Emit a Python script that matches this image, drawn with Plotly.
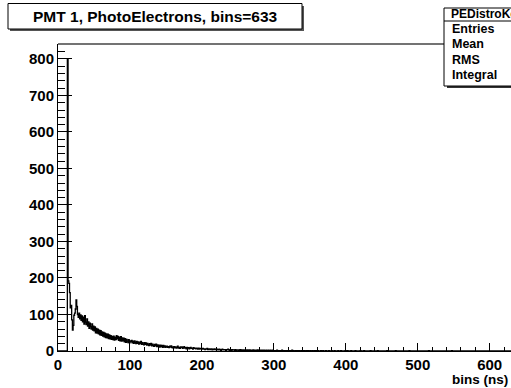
import numpy as np
import plotly.graph_objects as go

# ---- data (counts per 1 ns bin, 633 bins from 0 to 633 ns) ----
counts_0_13 = [0,0,0,0,0,0,0,0,0,0,0,0,0, 801]
counts_14_100 = [
    192,185,160,118,125,85,57,70,98,104,
    115,140,122,100,92,104,88,99,84,96,
    80,93,74,97,79,72,88,68,80,62,
    76,67,60,74,57,68,55,66,50,62,
    49,60,47,57,44,56,43,52,41,51,
    39,49,37,47,36,46,34,44,33,42,
    32,40,31,41,30,38,31,42,33,40,
    29,38,28,39,27,36,28,35,25,34,
    24,32,27,23,31,22,28]
counts_101_150 = [
    25,29,22,27,21,28,24,20,26,21,
    25,19,24,20,26,18,23,19,17,23,
    18,22,16,21,17,15,20,16,21,14,
    19,15,13,18,14,19,12,17,13,16,
    11,16,12,15,10,15,11,14,10,13]
counts_151_200 = [
    13,10,12,9,13,11,14,9,11,8,
    12,9,11,8,10,13,8,10,7,11,
    9,11,7,9,12,8,9,6,10,8,
    9,6,8,10,7,8,5,9,7,8,
    6,8,7,5,8,5,7,6,7,5]
counts_201_300 = [
    7,5,6,4,6,5,7,4,5,6,
    4,5,6,3,5,4,6,4,5,3,
    5,4,3,5,4,2,4,5,3,4,
    3,4,2,4,3,5,3,2,4,3,
    2,4,3,3,2,4,2,3,3,2,
    3,2,4,2,3,1,3,2,2,3,
    1,2,3,2,1,3,2,2,1,2,
    3,1,2,2,1,2,3,1,2,1,
    2,1,2,1,2,2,1,1,2,1,
    1,2,1,1,2,0,1,2,1,1]
counts_301_400 = [
    1,0,1,2,1,0,1,1,0,1,
    2,1,0,1,1,0,1,0,1,1,
    0,1,0,1,2,0,1,0,0,1,
    1,0,1,0,1,0,0,1,0,1,
    0,1,0,0,1,0,1,0,0,1,
    0,0,1,0,0,1,0,1,0,0,
    1,0,0,0,1,0,0,1,0,0,
    0,1,0,0,0,1,0,0,0,1,
    0,0,0,1,0,0,0,0,1,0,
    0,0,1,0,0,0,0,0,1,0]
counts_401_632 = [
    0,1,0,0,0,0,1,0,0,0,0,0,1,0,0,0,0,0,0,1,
    0,0,0,0,1,0,0,0,0,0,0,0,0,1,0,0,0,0,0,0,
    0,0,0,1,0,0,0,0,0,0,0,0,0,0,0,0,1,0,0,0,
    0,0,0,0,0,0,0,0,1,0,0,0,0,0,0,0,0,0,0,0,
    0,0,0,0,0,0,0,1,0,0,0,0,0,0,0,0,0,0,0,0,
    0,0,0,0,0,0,0,0,0,0,0,0,0,0,1,0,0,0,0,0,
    0,0,0,0,0,0,0,0,0,0,0,0,0,0,0,0,0,0,0,0,
    0,0,0,0,0,0,1,0,0,0,0,0,0,0,0,0,0,0,0,0,
    0,0,0,0,0,0,0,0,0,0,0,0,0,0,0,0,0,0,0,0,
    0,0,0,0,0,0,0,0,0,0,0,0,0,0,0,0,0,0,0,0,
    0,0,0,0,0,0,0,0,0,0,0,0,0,0,0,0,0,0,0,0,
    0,0,0,0,0,0,0,0,0,0,0,0]

counts = (counts_0_13 + counts_14_100 + counts_101_150 + counts_151_200
          + counts_201_300 + counts_301_400 + counts_401_632)

title_text = "PMT 1, PhotoElectrons, bins=633"
x_title = "bins (ns)"
stats_name = "PEDistroKe"
stats_labels = ["Entries", "Mean", "RMS", "Integral"]

# ---- build step outline ----
edges = np.arange(len(counts) + 1)
xs = list(edges)
ys = list(counts) + [counts[-1]]

FONT = "Liberation Sans"

fig = go.Figure()
fig.add_trace(go.Scatter(x=xs, y=ys, mode="lines", line=dict(color="black", width=1.3, shape="hv"),
                         hoverinfo="skip", showlegend=False))

fig.update_layout(
    width=511, height=388,
    margin=dict(l=58, r=0, t=44, b=37),
    paper_bgcolor="white", plot_bgcolor="white",
    font=dict(family=FONT, color="black"),
    showlegend=False,
    xaxis=dict(range=[0, 629.6], showgrid=False, zeroline=False, showline=True, linecolor="black",
               linewidth=1, ticks="inside", ticklen=8, tickcolor="black", dtick=100, tick0=0,
               tickfont=dict(family=FONT, size=15, weight="bold", color="black"),
               minor=dict(dtick=20, ticks="inside", ticklen=4, tickcolor="black", showgrid=False)),
    yaxis=dict(range=[0, 841], showgrid=False, zeroline=False, showline=True, linecolor="black",
               linewidth=1, ticks="inside", ticklen=14, tickcolor="black", dtick=100, tick0=0,
               tickfont=dict(family=FONT, size=15, weight="bold", color="black"),
               minor=dict(dtick=20, ticks="inside", ticklen=7, tickcolor="black", showgrid=False)),
)

def px_x(p):
    return (p - 58) / 453

def px_y(p):
    return (351 - p) / 307

shapes = []
# top frame line
shapes.append(dict(type="line", xref="paper", yref="paper", x0=0, x1=1, y0=1, y1=1,
                   line=dict(color="#444", width=1.5)))
# title box with shadow
shapes.append(dict(type="rect", xref="paper", yref="paper",
                   x0=px_x(10), x1=px_x(304), y0=px_y(31), y1=px_y(6),
                   fillcolor="#555", line=dict(width=0)))
shapes.append(dict(type="rect", xref="paper", yref="paper",
                   x0=px_x(8), x1=px_x(302), y0=px_y(29), y1=px_y(3.5),
                   fillcolor="white", line=dict(color="black", width=1)))
# stats box with shadow
shapes.append(dict(type="rect", xref="paper", yref="paper",
                   x0=px_x(447), x1=px_x(560), y0=px_y(88), y1=px_y(11),
                   fillcolor="#333", line=dict(width=0)))
shapes.append(dict(type="rect", xref="paper", yref="paper",
                   x0=px_x(444), x1=px_x(560), y0=px_y(86), y1=px_y(8),
                   fillcolor="white", line=dict(color="black", width=1)))
shapes.append(dict(type="line", xref="paper", yref="paper",
                   x0=px_x(444), x1=px_x(560), y0=px_y(21), y1=px_y(21),
                   line=dict(color="black", width=1)))
fig.update_layout(shapes=shapes)

annotations = [
    dict(text=title_text, x=px_x(155), y=px_y(16.5), xanchor="center", yanchor="middle",
         font=dict(family=FONT, size=15.5, weight="bold", color="black")),
    dict(text=x_title, x=px_x(510), y=px_y(379.5), xanchor="right", yanchor="middle",
         font=dict(family=FONT, size=13.5, weight="bold", color="black")),
    dict(text=stats_name, x=px_x(449), y=px_y(14.5), xanchor="left", yanchor="middle",
         font=dict(family=FONT, size=12, weight="bold", color="black")),
]
for lab, yy in zip(stats_labels, [29, 44, 59.5, 75]):
    annotations.append(dict(text=lab, x=px_x(450), y=px_y(yy), xanchor="left", yanchor="middle",
                            font=dict(family=FONT, size=12.5, weight="bold", color="black")))
for a in annotations:
    a.update(xref="paper", yref="paper", showarrow=False)
fig.update_layout(annotations=annotations)

fig.write_html("out.html")
